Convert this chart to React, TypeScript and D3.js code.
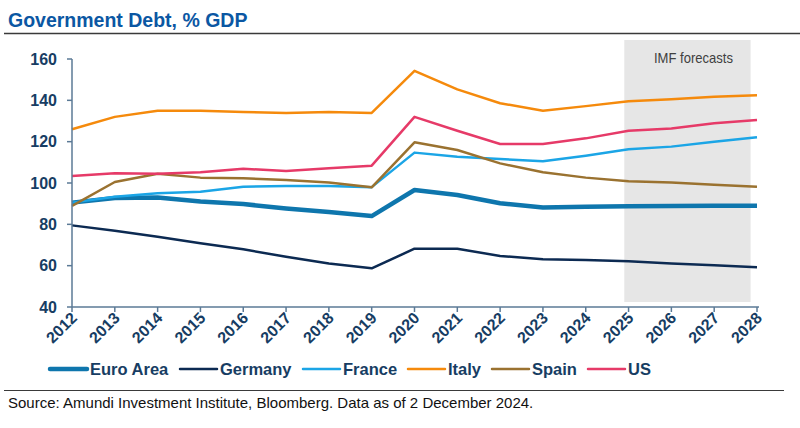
import React from "react";
import * as d3 from "d3";

const years = [2012, 2013, 2014, 2015, 2016, 2017, 2018, 2019, 2020, 2021, 2022, 2023, 2024, 2025, 2026, 2027, 2028];
const euroArea = [90.5, 92.7, 93, 91, 89.8, 87.7, 86, 84, 96.6, 94.2, 90.2, 88.2, 88.5, 88.8, 88.9, 89, 89];
const germany = [79.5, 76.9, 74, 70.8, 67.9, 64.3, 61.1, 58.7, 68.2, 68.2, 64.7, 63.1, 62.7, 62.1, 61.1, 60.2, 59.2];
const france = [90.5, 93.4, 95, 95.8, 98.2, 98.5, 98.5, 98, 114.7, 112.7, 111.6, 110.5, 113.2, 116.3, 117.6, 120, 122.1];
const italy = [126, 132, 135, 135, 134.3, 133.9, 134.3, 133.9, 154.3, 145.3, 138.6, 135, 137.2, 139.5, 140.5, 141.7, 142.4];
const spain = [88.9, 100.5, 104.5, 102.6, 102.3, 101.4, 100.2, 97.9, 119.7, 116, 109.5, 105.2, 102.6, 100.8, 100.2, 99.2, 98.2];
const us = [103.4, 104.7, 104.5, 105.2, 106.9, 105.8, 107.1, 108.4, 132, 125.3, 118.9, 118.9, 121.6, 125.3, 126.4, 128.9, 130.5];
const yTicks = [40, 60, 80, 100, 120, 140, 160];
const forecastStart = 2024.9;
const forecastEnd = 2027.85;

const series = [
  { name: "Euro Area", values: euroArea, color: "#0e76ad", width: 4.5 },
  { name: "Germany", values: germany, color: "#0c2a52", width: 2.5 },
  { name: "France", values: france, color: "#1ba5e6", width: 2.5 },
  { name: "Italy", values: italy, color: "#f58a0c", width: 2.5 },
  { name: "Spain", values: spain, color: "#9a7230", width: 2.5 },
  { name: "US", values: us, color: "#e63a68", width: 2.5 },
];
const legendX = [50, 180, 303, 408, 492, 588];

export default function App() {
  const W = 800, H = 428;
  const x = d3.scaleLinear().domain([2012, 2028]).range([72, 757]);
  const y = d3.scaleLinear().domain([40, 160]).range([307, 59]);
  const line = d3.line<number>().x((_, i) => x(years[i])).y((v) => y(v));
  const axisColor = "#5b7a96";
  const labelColor = "#173d63";
  const font = "Arial, 'Liberation Sans', sans-serif";

  return (
    <svg width={W} height={H} style={{ position: "absolute", left: 0, top: 0, background: "#fff" }} fontFamily={font}>
      <rect width={W} height={H} fill="#fff" />
      <text x={8} y={27} fontSize={19.5} fontWeight="bold" fill="#0b57a3">Government Debt, % GDP</text>
      <line x1={4} x2={800} y1={33.5} y2={33.5} stroke="#3a3a3a" strokeWidth={1.5} />

      <rect x={x(forecastStart)} y={40} width={x(forecastEnd) - x(forecastStart)} height={262} fill="#e6e6e6" />
      <text x={654} y={63} fontSize={14.5} textLength={79} lengthAdjust="spacingAndGlyphs"
        fill="#404040">IMF forecasts</text>

      {series.map((s) => (
        <path key={s.name} d={line(s.values) || ""} fill="none" stroke={s.color} strokeWidth={s.width}
          strokeLinejoin="round" strokeLinecap="butt" />
      ))}

      {/* Y axis */}
      <line x1={72} x2={72} y1={y(160)} y2={y(40)} stroke={axisColor} strokeWidth={1.5} />
      {yTicks.map((t) => (
        <g key={t}>
          <line x1={67} x2={72} y1={y(t)} y2={y(t)} stroke={axisColor} strokeWidth={1.5} />
          <text x={57} y={y(t) + 5.5} textAnchor="end" fontSize={16} fontWeight="bold" fill={labelColor}>{t}</text>
        </g>
      ))}

      {/* X axis */}
      <line x1={72} x2={759} y1={y(40)} y2={y(40)} stroke={axisColor} strokeWidth={1.5} />
      {years.map((yr) => (
        <g key={yr}>
          <line x1={x(yr)} x2={x(yr)} y1={y(40)} y2={y(40) + 5} stroke={axisColor} strokeWidth={1.5} />
          <text transform={`translate(${x(yr) + 6},${y(40) + 12}) rotate(-45)`} textAnchor="end" fontSize={16}
            fontWeight="bold" fill={labelColor}>{yr}</text>
        </g>
      ))}

      {/* Legend */}
      {series.map((s, i) => (
        <g key={s.name}>
          <line x1={legendX[i]} x2={legendX[i] + 37} y1={369} y2={369} stroke={s.color} strokeWidth={s.width} strokeLinecap="round" />
          <text x={legendX[i] + 40} y={375} fontSize={16.5} fontWeight="bold" fill={labelColor}>{s.name}</text>
        </g>
      ))}

      <line x1={4} x2={784} y1={390.5} y2={390.5} stroke="#3a3a3a" strokeWidth={1.2} />
      <text x={8} y={408} fontSize={15} fill="#111">Source: Amundi Investment Institute, Bloomberg. Data as of 2 December 2024.</text>
    </svg>
  );
}
